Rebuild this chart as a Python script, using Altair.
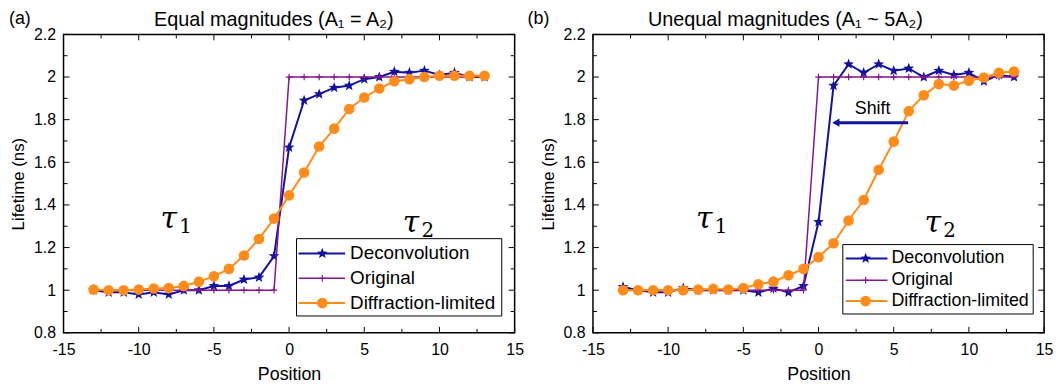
import altair as alt
import pandas as pd

# ---------------- data ----------------
positions = [-13, -12, -11, -10, -9, -8, -7, -6, -5, -4, -3, -2, -1,
             0, 1, 2, 3, 4, 5, 6, 7, 8, 9, 10, 11, 12, 13]

a_deconv = [1.0, 0.99, 0.99, 0.98, 0.99, 0.98, 1.0, 1.0, 1.02, 1.02, 1.05, 1.06, 1.16,
            1.67, 1.89, 1.92, 1.95, 1.96, 1.99, 2.0, 2.025, 2.02, 2.03, 2.01, 2.02, 2.0, 2.0]
a_original = [1, 1, 1, 1, 1, 1, 1, 1, 1, 1, 1, 1, 1,
              2, 2, 2, 2, 2, 2, 2, 2, 2, 2, 2, 2, 2, 2]
a_diffraction = [1.003, 1.0, 1.0, 1.003, 1.008, 1.01, 1.02, 1.04, 1.065, 1.10, 1.163, 1.24, 1.336,
                 1.445, 1.552, 1.674, 1.758, 1.85, 1.904, 1.946, 1.98, 1.99, 2.0, 2.006, 2.006, 2.006, 2.006]

b_deconv = [1.015, 1.0, 0.99, 0.99, 1.01, 1.0, 1.0, 1.0, 1.0, 0.99, 1.008, 0.99, 1.02,
            1.32, 1.96, 2.06, 2.02, 2.06, 2.03, 2.04, 2.0, 2.03, 2.01, 2.02, 1.98, 2.01, 2.0]
b_original = [1, 1, 1, 1, 1, 1, 1, 1, 1, 1, 1, 1, 1,
              2, 2, 2, 2, 2, 2, 2, 2, 2, 2, 2, 2, 2, 2]
b_diffraction = [1.0, 1.0, 1.0, 1.0, 1.0, 1.003, 1.006, 1.003, 1.01, 1.028, 1.04, 1.07, 1.10,
                 1.155, 1.22, 1.327, 1.423, 1.565, 1.697, 1.84, 1.914, 1.967, 1.96, 1.983, 1.998, 2.02, 2.026]

legend_labels = ["Deconvolution", "Original", "Diffraction-limited"]
x_ticks = [-15, -10, -5, 0, 5, 10, 15]
x_minor = [-12.5, -7.5, -2.5, 2.5, 7.5, 12.5]
y_ticks = [0.8, 1.0, 1.2, 1.4, 1.6, 1.8, 2.0, 2.2]
y_minor = [0.9, 1.1, 1.3, 1.5, 1.7, 1.9, 2.1]

titles = ["Equal magnitudes (A\u2081 = A\u2082)", "Unequal magnitudes (A\u2081 ~ 5A\u2082)"]
tags = ["(a)", "(b)"]
tau_a_x = [-8.0, 8.1]
tau_b_x = [-7.6, 7.6]
tau_y = [1.335, 1.315]
shift_x = [1.15, 5.95]
shift_y = [1.786]
shift_text_x = [3.6]
shift_text_y = [1.85]

# ---------------- style ----------------
FONT = "Liberation Sans"
NAVY = "#12129e"
PURPLE = "#84168f"
ORANGE = "#ff8c1a"
W, H = 455, 301
STAR = ("M0,-1L0.247,-0.34L0.951,-0.309L0.4,0.13L0.588,0.809L0,0.42L-0.588,0.809"
        "L-0.4,0.13L-0.951,-0.309L-0.247,-0.34Z")
CROSS = "M-1,0H1M0,-1V1"

XS = alt.Scale(domain=[-15, 15], nice=False, zero=False)
YS = alt.Scale(domain=[0.8, 2.2], nice=False, zero=False)
XAX = alt.Axis(values=x_ticks, title="Position", ticks=False, domain=False, grid=False,
               labelExpr="'' + datum.value", labelFlush=False, labelOverlap=False,
               labelFontSize=16, labelPadding=9, labelFont=FONT, titleFont=FONT,
               titleFontSize=18, titleFontWeight="normal", titlePadding=8,
               labelColor="black", titleColor="black")
YAX = alt.Axis(values=y_ticks, title="Lifetime (ns)", ticks=False, domain=False, grid=False,
               format="~g", labelFlush=False, labelOverlap=False,
               labelFontSize=16, labelPadding=8, labelFont=FONT, titleFont=FONT,
               titleFontSize=17, titleFontWeight="normal", titlePadding=6,
               labelColor="black", titleColor="black")


def X(f):
    return alt.X(f, scale=XS, axis=XAX)


def Y(f):
    return alt.Y(f, scale=YS, axis=YAX)


def panel(deconv, orig, diff, title, tag, tau_x, ty, leg, tag_pos, title_pos, shift=False):
    layers = []
    specs = [
        (deconv, NAVY, 2, STAR, 130, True),
        (orig, PURPLE, 1.5, CROSS, 45, False),
        (diff, ORANGE, 2, "circle", 115, True),
    ]
    for vals, color, lw, shape, size, filled in specs:
        d = pd.DataFrame({"pos": positions, "val": vals})
        layers.append(alt.Chart(d).mark_line(color=color, strokeWidth=lw).encode(
            x=X("pos:Q"), y=Y("val:Q")))
        layers.append(alt.Chart(d).mark_point(shape=shape, size=size, filled=filled, color=color,
                                              opacity=1, strokeWidth=1.2).encode(
            x=X("pos:Q"), y=Y("val:Q")))

    # inward ticks on all four sides
    for vals, ln in [(x_ticks, 6), (x_minor, 4)]:
        d = pd.DataFrame({"pos": vals})
        layers.append(alt.Chart(d).mark_rule(color="black", strokeWidth=1).encode(
            x=X("pos:Q"), y=alt.value(H), y2=alt.value(H - ln)))
        layers.append(alt.Chart(d).mark_rule(color="black", strokeWidth=1).encode(
            x=X("pos:Q"), y=alt.value(0), y2=alt.value(ln)))
    for vals, ln in [(y_ticks, 6), (y_minor, 4)]:
        d = pd.DataFrame({"val": vals})
        layers.append(alt.Chart(d).mark_rule(color="black", strokeWidth=1).encode(
            y=Y("val:Q"), x=alt.value(0), x2=alt.value(ln)))
        layers.append(alt.Chart(d).mark_rule(color="black", strokeWidth=1).encode(
            y=Y("val:Q"), x=alt.value(W), x2=alt.value(W - ln)))

    # tau labels
    td = pd.DataFrame({"pos": tau_x, "val": ty, "t": ["\u03c4", "\u03c4"], "s": ["1", "2"]})
    layers.append(alt.Chart(td).mark_text(font="DejaVu Serif", fontStyle="italic", fontSize=30,
                                          color="black").encode(
        x=X("pos:Q"), y=Y("val:Q"), text="t:N"))
    layers.append(alt.Chart(td).mark_text(font="DejaVu Serif", fontSize=20, dx=17, dy=8,
                                          color="black").encode(
        x=X("pos:Q"), y=Y("val:Q"), text="s:N"))

    if shift:
        sd = pd.DataFrame({"pos": [shift_x[0]], "pos2": [shift_x[1]], "val": shift_y})
        layers.append(alt.Chart(sd).mark_rule(color=NAVY, strokeWidth=3).encode(
            x=X("pos:Q"), x2="pos2:Q", y=Y("val:Q")))
        layers.append(alt.Chart(sd).mark_point(shape="triangle-left", size=70, filled=True,
                                               color=NAVY, opacity=1).encode(
            x=X("pos:Q"), y=Y("val:Q")))
        st = pd.DataFrame({"pos": shift_text_x, "val": shift_text_y, "t": ["Shift"]})
        layers.append(alt.Chart(st).mark_text(font=FONT, fontSize=18, color="black").encode(
            x=X("pos:Q"), y=Y("val:Q"), text="t:N"))

    # legend
    bx0, bx1, by0, by1, rows, lx0, lx1, mx, tx, fs = leg
    one = pd.DataFrame({"k": [0]})
    layers.append(alt.Chart(one).mark_rect(fill="white", stroke="black", strokeWidth=1).encode(
        x=alt.value(bx0), x2=alt.value(bx1), y=alt.value(by0), y2=alt.value(by1)))
    for (vals, color, lw, shape, size, filled), label, ry in zip(specs, legend_labels, rows):
        layers.append(alt.Chart(one).mark_rule(color=color, strokeWidth=lw).encode(
            x=alt.value(lx0), x2=alt.value(lx1), y=alt.value(ry)))
        layers.append(alt.Chart(one).mark_point(shape=shape, size=size, filled=filled, color=color,
                                                opacity=1, strokeWidth=1.2).encode(
            x=alt.value(mx), y=alt.value(ry)))
        layers.append(alt.Chart(one).mark_text(align="left", baseline="middle", fontSize=fs,
                                               font=FONT, color="black").encode(
            x=alt.value(tx), y=alt.value(ry), text=alt.value(label)))

    # panel tag and title
    layers.append(alt.Chart(one).mark_text(font=FONT, fontSize=18, color="black", align="left",
                                           baseline="middle").encode(
        x=alt.value(tag_pos[0]), y=alt.value(tag_pos[1]), text=alt.value(tag)))
    layers.append(alt.Chart(one).mark_text(font=FONT, fontSize=20, color="black", align="center",
                                           baseline="middle").encode(
        x=alt.value(title_pos[0]), y=alt.value(title_pos[1]), text=alt.value(title)))

    return alt.layer(*layers).properties(width=W, height=H)


leg_a = (235, 442, 206, 284, [221, 246, 271], 237, 284, 261, 289, 19)
leg_b = (252, 444, 212, 282, [226, 248, 269], 255, 297, 275, 301, 18)

pa = panel(a_deconv, a_original, a_diffraction, titles[0], tags[0], tau_a_x, tau_y, leg_a,
           (-55, -15), (212, -14))
pb = panel(b_deconv, b_original, b_diffraction, titles[1], tags[1], tau_b_x, tau_y, leg_b,
           (-66, -15), (194, -14), shift=True)

chart = alt.hconcat(pa, pb, spacing=2).properties(
    padding={"left": 0, "top": 0, "right": 0, "bottom": 0}
).configure_view(stroke="black", strokeWidth=1.5)

chart.save("out.html", embed_options={"renderer": "svg", "actions": False})
